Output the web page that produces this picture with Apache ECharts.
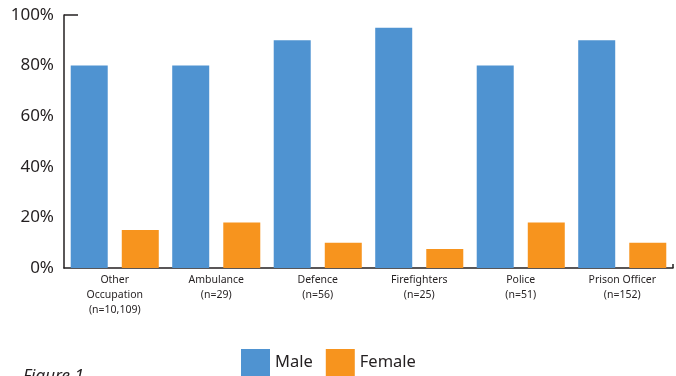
<!DOCTYPE html>
<html>
<head>
<meta charset="utf-8">
<script src="https://cdn.jsdelivr.net/npm/echarts@6/dist/echarts.min.js"></script>
<style>
html,body{margin:0;padding:0;background:#fff;}
#c{width:676px;height:376px;}
</style>
</head>
<body>
<div id="c"></div>
<script>
const categories = ['Other\nOccupation\n(n=10,109)', 'Ambulance\n(n=29)', 'Defence\n(n=56)', 'Firefighters\n(n=25)', 'Police\n(n=51)', 'Prison Officer\n(n=152)'];
const maleValues = [80, 80, 90, 95, 80, 90];
const femaleValues = [15, 18, 10, 7.5, 18, 10];
const seriesNames = ['Male', 'Female'];
const yTicks = { min: 0, max: 100, interval: 20 };

const FONT = '"Noto Sans", "Open Sans", sans-serif';
const chart = echarts.init(document.getElementById('c'), null, { renderer: 'canvas' });
chart.setOption({
  animation: false,
  backgroundColor: '#fff',
  title: {
    text: 'Figure 1',
    left: 18, top: 363,
    textStyle: { fontFamily: FONT, fontStyle: 'italic', fontWeight: 'normal', fontSize: 17, color: '#231f20' }
  },
  legend: {
    data: seriesNames,
    left: 241, top: 349,
    padding: 0,
    itemWidth: 29, itemHeight: 27, itemGap: 13,
    icon: 'rect',
    textStyle: { fontFamily: FONT, fontSize: 16.5, color: '#231f20' }
  },
  grid: { left: 64, right: 3, top: 15, bottom: 108, containLabel: false },
  xAxis: {
    type: 'category',
    data: categories,
    axisLine: { lineStyle: { color: '#231f20', width: 1.5 } },
    axisTick: { show: false },
    axisLabel: { fontFamily: FONT, fontSize: 10.5, lineHeight: 15, color: '#231f20', margin: 5, interval: 0 }
  },
  yAxis: {
    type: 'value',
    min: yTicks.min, max: yTicks.max, interval: yTicks.interval,
    axisLine: { show: true, lineStyle: { color: '#231f20', width: 1.5 } },
    axisTick: { show: false },
    splitLine: { show: false },
    axisLabel: { formatter: '{value}%', fontFamily: FONT, fontSize: 17, color: '#231f20', margin: 10 }
  },
  series: [
    { name: seriesNames[0], type: 'bar', data: maleValues, barWidth: 37, barGap: '38%', itemStyle: { color: '#4f93d1' } },
    { name: seriesNames[1], type: 'bar', data: femaleValues, barWidth: 37, itemStyle: { color: '#f7941e' } }
  ]
});

// decorative top tick at 100% and right end tick on x-axis
const gridRect = chart.getModel().getComponent('grid').coordinateSystem.getRect();
chart.setOption({
  graphic: [
    { type: 'line', shape: { x1: gridRect.x, y1: gridRect.y, x2: gridRect.x + 14, y2: gridRect.y }, style: { stroke: '#231f20', lineWidth: 1.5 } },
    { type: 'line', shape: { x1: gridRect.x + gridRect.width, y1: gridRect.y + gridRect.height, x2: gridRect.x + gridRect.width, y2: gridRect.y + gridRect.height - 4 }, style: { stroke: '#231f20', lineWidth: 1.5 } }
  ]
});
</script>
</body>
</html>
